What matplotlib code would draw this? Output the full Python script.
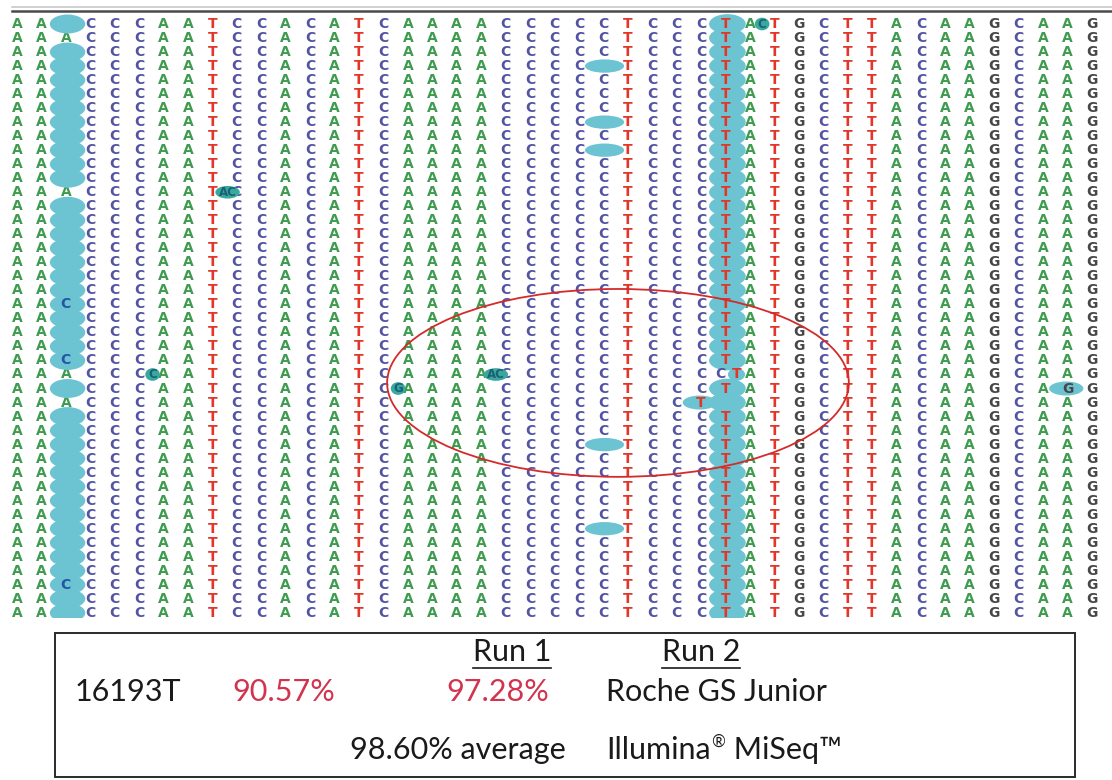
import matplotlib
matplotlib.use("Agg")
import matplotlib.pyplot as plt
from matplotlib.patches import Ellipse, Rectangle
from matplotlib.lines import Line2D

# consensus bases across the window (0-based columns)
reference = "AAACCCAATCCACATCAAAACCCCCTCCCTATGCTTACAAGCAAG"
n_reads = 43

# deletion run at column 2 (blank, highlighted)
gap_col_a = 2
gap_rows_a = [0, 2, 3, 4, 5, 6, 7, 8, 9, 10, 11,
              13, 14, 15, 16, 17, 18, 19, 20, 21, 22, 23, 24,
              26, 28, 29, 30, 31, 32, 33, 34, 35, 36, 37, 38, 39, 40, 41, 42]
# reads that carry a C inside that highlighted run
c_rows_a = [20, 24, 40]

# scattered deletions at column 24
gap_col_b = 24
gap_rows_b = [3, 7, 9, 30, 36]

# the 16193T column, highlighted in every read
t_col = 29
t_missing_rows = [25, 27]

# insertions: (read, column position, inserted bases)
insertions = [(0, 30.5, "C"), (12, 8.62, "AC"), (25, 5.55, "C"),
              (25, 19.6, "AC"), (26, 15.6, "G")]
# highlighted substitutions: (read, column, base)
substitutions = [(26, 43, "G"), (27, 28, "T")]

# concordance figures for 16193T
run_labels = ["Run 1", "Run 2"]
run_values = ["90.57%", "97.28%"]
platform_1 = "Roche GS Junior"
miseq_value = "98.60% average"
platform_2 = ["Illumina", "\u00ae", " MiSeq\u2122"]

base_colors = {"A": "#3e9b4f", "C": "#5353a3", "G": "#474747", "T": "#e2362b"}
hl_color = "#6cc4d3"
ins_color = "#38a99c"

fig = plt.figure(figsize=(11.12, 7.8), dpi=100)

# alignment panel, one unit per base / read
ax = fig.add_axes([0, (780 - 618) / 780, 1, (618 - 14) / 780])
col_w, row_h = 24.43, 14.02
ax.set_xlim(-17 / col_w, (1112 - 17) / col_w)
ax.set_ylim((618 - 24) / row_h, (14 - 24) / row_h)
ax.axis("off")

font = dict(family="DejaVu Sans", fontweight="bold", fontsize=10,
            ha="center", va="center")

for r in range(n_reads):
    for c, b in enumerate(reference):
        if c == gap_col_a and r in gap_rows_a:
            continue
        if c == gap_col_b and r in gap_rows_b:
            continue
        if c == t_col:
            continue
        if any(s[0] == r and s[1] == c for s in substitutions):
            continue
        ax.text(c, r, b, color=base_colors[b], zorder=2, **font)

# highlight bands: overlapping ovals give the scalloped edge
for r in gap_rows_a:
    ax.add_patch(Ellipse((gap_col_a + 0.07, r), 1.45, 1.35,
                         color=hl_color, lw=0, zorder=3))
for r in c_rows_a:
    ax.text(gap_col_a, r, "C", color="#2456a6", zorder=4, **font)

for r in gap_rows_b:
    ax.add_patch(Ellipse((gap_col_b + 0.05, r), 1.6, 0.95,
                         color=hl_color, lw=0, zorder=3))

for r in range(n_reads):
    if r == 25:
        continue
    ax.add_patch(Ellipse((t_col + 0.08, r), 1.5, 1.4,
                         color=hl_color, lw=0, zorder=3))
    if r not in t_missing_rows:
        ax.text(t_col, r, "T", color=base_colors["T"], zorder=4, **font)
# read 25 has an extra C ahead of the T
ax.add_patch(Ellipse((t_col + 0.45, 25), 0.7, 0.9, color=hl_color, lw=0, zorder=3))
ax.text(t_col - 0.2, 25, "C", color=base_colors["C"], zorder=4, **font)
ax.text(t_col + 0.45, 25, "T", color=base_colors["T"], zorder=4, **font)

for r, c, b in substitutions:
    ax.add_patch(Ellipse((c - 0.05, r), 1.4, 1.0, color=hl_color, lw=0, zorder=3))
    ax.text(c, r, b, color=base_colors[b], zorder=4, **font)

for r, c, seq in insertions:
    w = 0.6 + 0.4 * (len(seq) - 1)
    ax.add_patch(Ellipse((c, r), w, 0.9, color=ins_color, lw=0, zorder=3))
    ax.text(c, r, seq, color="#1b5f78", zorder=4, family="DejaVu Sans",
            fontweight="bold", fontsize=8.5, ha="center", va="center")

# circled region around the 16193 site
ax.add_patch(Ellipse((24.6, 25.6), 18.9, 13.4, fill=False,
                     edgecolor="#d42a2a", lw=1.3, zorder=5))

# page furniture and summary box
top = fig.add_axes([0, 0, 1, 1], facecolor="none")
top.set_xlim(0, 1112)
top.set_ylim(780, 0)
top.axis("off")
top.add_line(Line2D([12, 1112], [7, 7], color="#c8c8c8", lw=1.2))
top.add_line(Line2D([12, 1112], [11, 11], color="#4a4a4a", lw=1.8))

top.add_patch(Rectangle((55, 633), 1020, 144, fill=False,
                        edgecolor="#2a2a2a", lw=1.4))

tfont = dict(family=["Lato", "DejaVu Sans"], fontsize=22, va="center", ha="left")
ink = "#1a1a1a"
red = "#d2334f"
heads = []
for x, lab in zip([473, 662], run_labels):
    heads.append(top.text(x, 652, lab, color=ink, **tfont))
top.text(75, 692, "16193T", color=ink, **tfont)
top.text(232, 692, run_values[0], color=red, **tfont)
top.text(446, 692, run_values[1], color=red, **tfont)
top.text(606, 692, platform_1, color=ink, **tfont)
top.text(350, 750, miseq_value, color=ink, **tfont)

fig.canvas.draw()
inv = top.transData.inverted()


def right_edge(t):
    bb = t.get_window_extent()
    return inv.transform([[bb.x1, bb.y0]])[0][0]


# Illumina trademark line, with a raised registered sign
t1 = top.text(606, 750, platform_2[0], color=ink, **tfont)
fig.canvas.draw()
t2 = top.text(right_edge(t1) + 1, 742, platform_2[1], color=ink,
              family=["Lato", "DejaVu Sans"], fontsize=12, va="center", ha="left")
fig.canvas.draw()
top.text(right_edge(t2), 750, platform_2[2], color=ink, **tfont)

for t in heads:
    bb = t.get_window_extent()
    (x0, _), (x1, _) = inv.transform([[bb.x0, bb.y0], [bb.x1, bb.y0]])
    top.add_line(Line2D([x0, x1], [668, 668], color=ink, lw=1.2))

fig.savefig("out.png", dpi=100)
